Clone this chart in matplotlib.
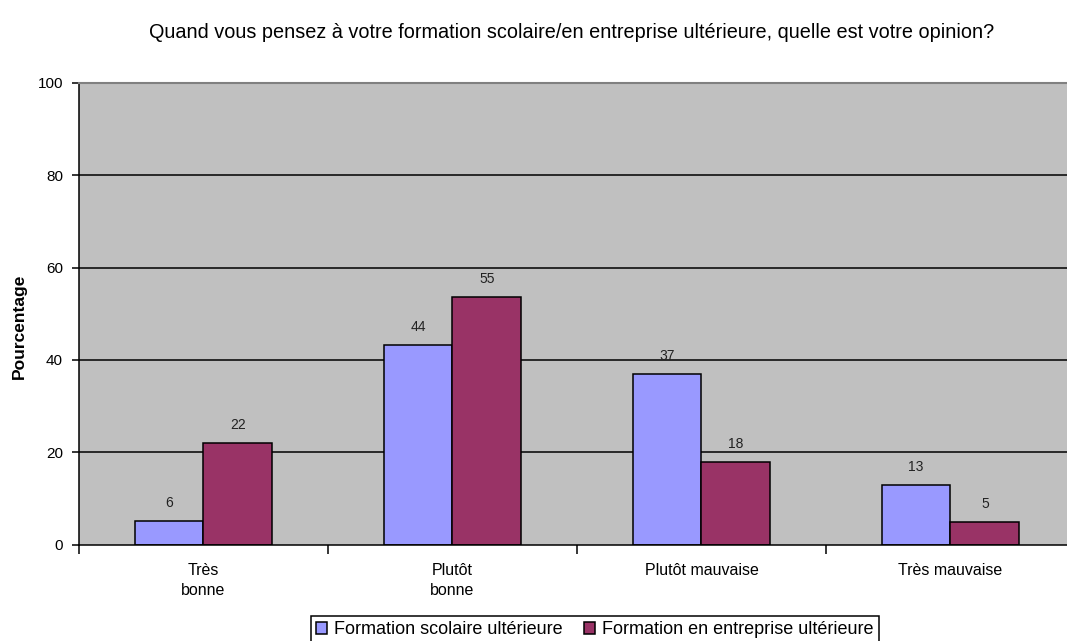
import matplotlib
matplotlib.use("Agg")
import matplotlib.pyplot as plt
import numpy as np
from matplotlib.patches import Patch

plt.rcParams['font.family'] = ['Liberation Sans', 'DejaVu Sans']

categories = ["Très\nbonne", "Plutôt\nbonne", "Plutôt mauvaise", "Très mauvaise"]
series_names = ["Formation scolaire ultérieure", "Formation en entreprise ultérieure"]
scolaire = [5.2, 43.2, 37.0, 12.9]
entreprise = [22.1, 53.7, 17.9, 4.8]
scolaire_labels = ["6", "44", "37", "13"]
entreprise_labels = ["22", "55", "18", "5"]
yticks = [0, 20, 40, 60, 80, 100]
title = "Quand vous pensez à votre formation scolaire/en entreprise ultérieure, quelle est votre opinion?"
ylabel = "Pourcentage"

W, H = 1067, 641
fig = plt.figure(figsize=(W / 100, H / 100), dpi=100)
ax = fig.add_axes([79 / W, 1 - 544.5 / H, 996 / W, (544.5 - 83) / H])
ax.set_facecolor("#C0C0C0")
ax.set_xlim(-0.5, len(categories) - 0.5)
ax.set_ylim(0, 100)

for v in yticks[1:-1]:
    ax.axhline(v, color="black", lw=1.1, zorder=1)

x = np.arange(len(categories))
bw = 0.277
b1 = ax.bar(x - bw / 2, scolaire, bw, color="#9999FF", edgecolor="black", lw=1.1, zorder=2)
b2 = ax.bar(x + bw / 2, entreprise, bw, color="#993366", edgecolor="black", lw=1.1, zorder=2)

for bars, labs in ((b1, scolaire_labels), (b2, entreprise_labels)):
    for rect, lab in zip(bars, labs):
        ax.annotate(lab, (rect.get_x() + rect.get_width() / 2, rect.get_height()),
                    xytext=(0, 10), textcoords="offset points", ha="center", va="baseline",
                    fontsize=10, color="#222222")

ax.spines["right"].set_visible(False)
ax.spines["top"].set_color("#808080")
ax.spines["top"].set_linewidth(1.5)
ax.spines["left"].set_linewidth(1.1)
ax.spines["bottom"].set_linewidth(1.1)

ax.set_yticks(yticks)
ax.tick_params(axis="y", direction="out", length=5, width=1.1, pad=6.5, labelsize=11)
ax.set_xticks(x)
ax.set_xticklabels(categories, fontsize=11.5, linespacing=1.45)
ax.tick_params(axis="x", which="major", length=0, pad=13)
ax.set_xticks(np.arange(len(categories) + 1) - 0.5, minor=True)
ax.tick_params(axis="x", which="minor", direction="out", length=6.5, width=1.1)

fig.text(19 / W, 1 - 326 / H, ylabel, rotation=90, ha="center", va="center",
         fontsize=12.5, fontweight="bold")
fig.text(572 / W, 1 - 33 / H, title, ha="center", va="center", fontsize=14.3)

handles = [Patch(facecolor="#9999FF", edgecolor="black", lw=1.1),
           Patch(facecolor="#993366", edgecolor="black", lw=1.1)]
leg = fig.legend(handles, series_names, loc="upper center",
                 bbox_to_anchor=(595 / W, 1 - 616 / H), ncol=2, fontsize=13,
                 frameon=True, fancybox=False, edgecolor="black", framealpha=1,
                 handlelength=0.6, handleheight=0.6, handletextpad=0.4,
                 columnspacing=1.2, borderpad=0.3, borderaxespad=0)
leg.get_frame().set_linewidth(1.1)

fig.savefig("out.png", dpi=100)
